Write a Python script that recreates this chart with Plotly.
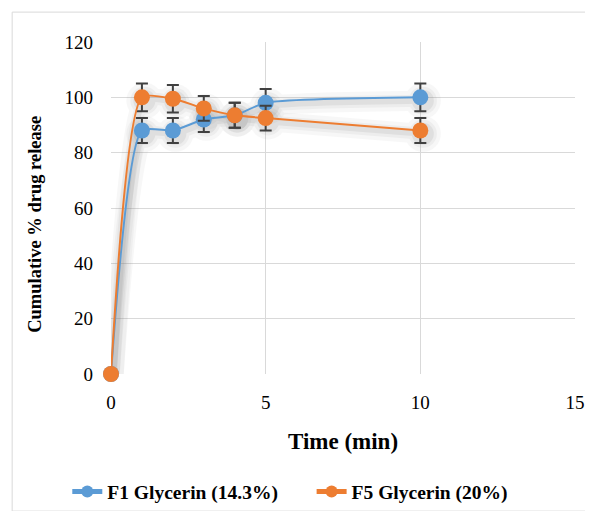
import plotly.graph_objects as go

time_min = [0, 1, 2, 3, 4, 5, 10]
f1_values = [0, 88, 88, 92, 93.5, 98, 100]
f1_err = [0, 4.5, 4.5, 4.5, 4.5, 5, 5]
f5_values = [0, 100, 99.5, 96, 93.5, 92.5, 88]
f5_err = [0, 5, 5, 4.5, 4.5, 4.5, 4.5]

series = [
    ("F1 Glycerin (14.3%)", f1_values, f1_err, "#5B9BD5", "legend"),
    ("F5 Glycerin (20%)", f5_values, f5_err, "#ED7D31", "legend2"),
]

fig = go.Figure()

# soft shadow effect behind lines
for name, vals, err, col, lg in series:
    for w, op in [(20, 0.06), (12, 0.08), (6, 0.12)]:
        fig.add_trace(go.Scatter(
            x=[t + 0.08 for t in time_min], y=[v - 1.2 for v in vals],
            mode="lines+markers", line=dict(color="gray", width=w, shape="spline", smoothing=0.6),
            marker=dict(size=16 + w, color="gray"), opacity=op, cliponaxis=False,
            showlegend=False, hoverinfo="skip"))

for name, vals, err, col, lg in series:
    fig.add_trace(go.Scatter(
        x=time_min, y=vals, name="<b>" + name + "</b>", legend=lg,
        mode="lines+markers", cliponaxis=False,
        line=dict(color=col, width=2, shape="spline", smoothing=0.6),
        marker=dict(size=16, color=col),
        error_y=dict(type="data", array=err, color="#404040", thickness=2, width=6),
    ))

legend_common = dict(orientation="h", xanchor="left", xref="container",
                     y=0.053, yanchor="middle", yref="container",
                     font=dict(size=19.5, family="Liberation Serif"), itemsizing="constant",
                     bgcolor="rgba(0,0,0,0)")

fig.update_layout(
    width=593, height=511,
    margin=dict(l=103, r=26, t=34, b=145, autoexpand=False),
    paper_bgcolor="white", plot_bgcolor="white",
    font=dict(family="Liberation Serif", size=19, color="black"),
    showlegend=True,
    legend=dict(x=0.1, **legend_common),
    legend2=dict(x=0.512, **legend_common),
    shapes=[dict(type="rect", xref="paper", yref="paper", x0=-0.213, x1=1.032, y0=-0.413, y1=1.09,
                 line=dict(color="#D9D9D9", width=1))],
    annotations=[dict(text="<b>Cumulative % drug release</b>", textangle=-90,
                      xref="paper", yref="paper", x=-0.164, y=0.452,
                      xanchor="center", yanchor="middle", showarrow=False,
                      font=dict(size=18.5, family="Liberation Serif"))],
)
fig.update_xaxes(range=[0, 15], tickvals=[0, 5, 10, 15], showgrid=True, gridcolor="#D9D9D9",
                 zeroline=False, showline=False, ticks="", ticklabelstandoff=15,
                 tickfont=dict(size=19, family="Liberation Serif"),
                 title=dict(text="<b>Time (min)</b>", font=dict(size=23), standoff=20))
fig.update_yaxes(range=[0, 120], tickvals=[0, 20, 40, 60, 80, 100, 120], showgrid=True,
                 gridcolor="#D9D9D9", zeroline=False, showline=False, ticks="", ticklabelstandoff=17,
                 tickfont=dict(size=19, family="Liberation Serif"))

fig.write_html("out.html")
